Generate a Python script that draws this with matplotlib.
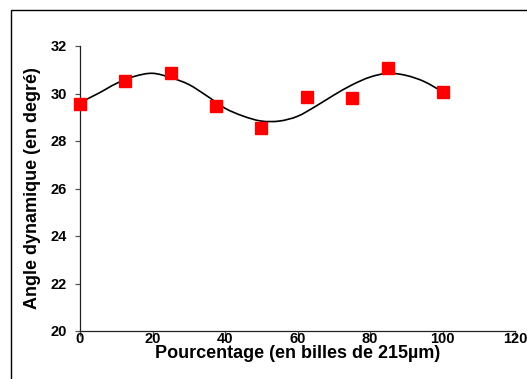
import numpy as np
import matplotlib
matplotlib.use("Agg")
import matplotlib.pyplot as plt
from matplotlib.patches import Rectangle, PathPatch
from matplotlib.path import Path

plt.rcParams['font.family'] = ['Liberation Sans', 'DejaVu Sans']
plt.rcParams['font.weight'] = 'bold'

# measured points: dynamic angle vs percentage of 215 µm beads
pct = [0, 12.5, 25, 37.5, 50, 62.5, 75, 85, 100]
angle = [29.55, 30.52, 30.88, 29.48, 28.55, 29.86, 29.82, 31.09, 30.07]

# fitted curve, sampled every 5 %
fit_x = [0, 5, 10, 15, 20, 25, 30, 35, 40, 45, 50,
         55, 60, 65, 70, 75, 80, 85, 90, 95, 100]
fit_y = [29.62, 30.00, 30.42, 30.72, 30.85, 30.67, 30.38, 29.90, 29.38, 29.05, 28.84,
         28.84, 29.04, 29.46, 29.93, 30.36, 30.69, 30.85, 30.76, 30.50, 30.07]


def smooth_path(xs, ys):
    """Catmull-Rom style smoothed line as cubic Bezier segments."""
    p = np.column_stack([xs, ys]).astype(float)
    verts = [p[0]]
    codes = [Path.MOVETO]
    n = len(p)
    for i in range(n - 1):
        p0 = p[max(i - 1, 0)]
        p1, p2 = p[i], p[i + 1]
        p3 = p[min(i + 2, n - 1)]
        c1 = p1 + (p2 - p0) / 6.0
        c2 = p2 - (p3 - p1) / 6.0
        verts += [c1, c2, p2]
        codes += [Path.CURVE4] * 3
    return Path(verts, codes)


W, H = 527, 379
fig = plt.figure(figsize=(W / 100, H / 100), dpi=100)
ax = fig.add_axes([80 / W, (H - 331) / H, 435 / W, (331 - 46) / H])

ax.add_patch(PathPatch(smooth_path(fit_x, fit_y), fill=False,
                       edgecolor='black', lw=1.2, zorder=2))
ax.plot(pct, angle, ls='none', marker='s', ms=8.5, color='#ff0000',
        mec='#ff0000', zorder=3, clip_on=False)

ax.set_xlim(0, 120)
ax.set_ylim(20, 32)
ax.set_xticks(range(0, 121, 20))
ax.set_yticks(range(20, 33, 2))

for s in ('top', 'right'):
    ax.spines[s].set_visible(False)
for s in ('left', 'bottom'):
    ax.spines[s].set_color('#222222')
    ax.spines[s].set_linewidth(0.9)

ax.tick_params(axis='both', direction='out', length=3.5, width=0.9,
               color='#555555', labelsize=10.5)
ax.tick_params(axis='y', pad=6)
ax.tick_params(axis='x', pad=-2.5)

ax.set_xlabel('Pourcentage (en billes de 215µm)', fontsize=13,
              fontweight='bold', labelpad=-1)
ax.set_ylabel('Angle dynamique (en degré)', fontsize=13,
              fontweight='bold', labelpad=7)

# outer chart frame
fig.patches.append(Rectangle((11 / W, -0.1), 1.2, 1 - 10 / H + 0.1,
                             transform=fig.transFigure, fill=False,
                             edgecolor='black', lw=1.0))

fig.savefig('out.png', dpi=100)
